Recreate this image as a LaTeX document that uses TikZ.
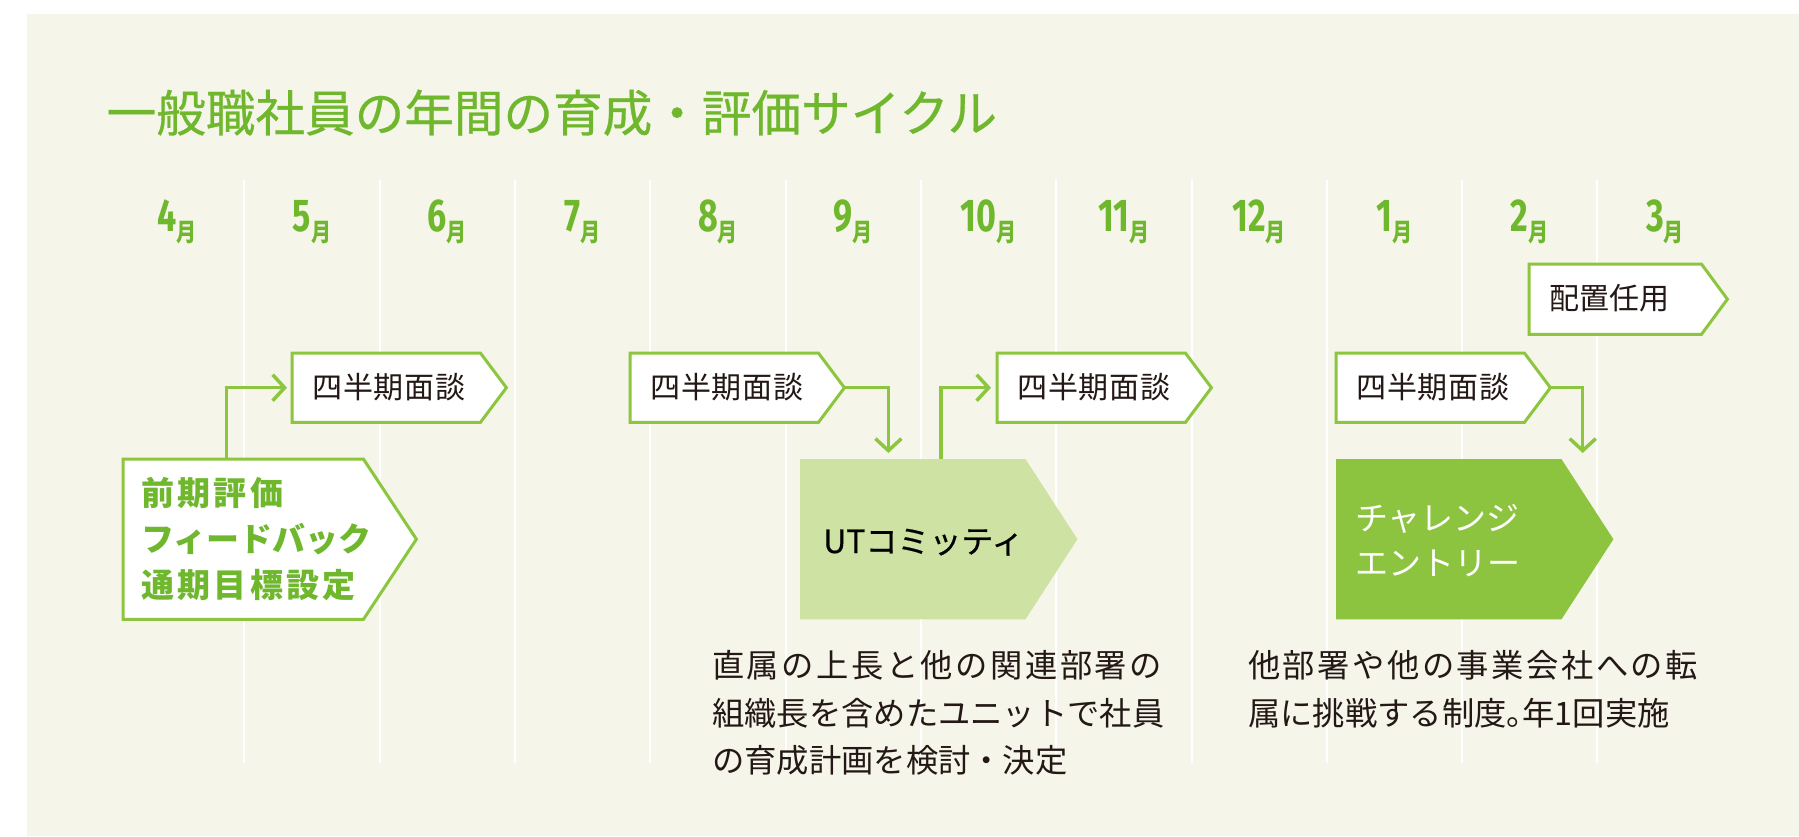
\documentclass[tikz,border=0pt]{standalone}
\usepackage{fontspec}
\usetikzlibrary{arrows.meta,calc}
\setmainfont{Noto Sans CJK JP}
\newfontfamily\jp{Noto Sans CJK JP}
\newfontfamily\jpsp[LetterSpace=3]{Noto Sans CJK JP}
\newfontfamily\jpwide[LetterSpace=7.7]{Noto Sans CJK JP}
\newfontfamily\jpbsp[LetterSpace=10]{Noto Sans CJK JP}
\newfontfamily\jpmed[FakeBold=0.6]{Noto Sans CJK JP}
\newfontfamily\digitf[FakeStretch=0.74]{Fira Sans}
\newfontfamily\monf[FakeStretch=0.8]{Noto Sans CJK JP}
\definecolor{bgc}{HTML}{F5F5EA}
\definecolor{tgreen}{HTML}{6FB72C}
\definecolor{lgreen}{HTML}{8CC63F}
\definecolor{gfill}{HTML}{8DC43F}
\definecolor{pale}{HTML}{CDE2A3}
\definecolor{inkc}{HTML}{231815}
\pgfdeclarelayer{bglayer}
\pgfdeclarelayer{shapes}
\pgfsetlayers{bglayer,shapes,main}
\newcommand\tipbox[3]{%
  \begin{pgfonlayer}{shapes}
  \path[#3] (#1.north west) -- (#1.north east) -- ($(#1.east)+(#2,0)$) -- (#1.south east) -- (#1.south west) -- cycle;
  \end{pgfonlayer}}
\tikzset{
  boxr/.style={shape=rectangle, inner sep=0pt, anchor=north west},
  wbox/.style={draw=lgreen, fill=white, line width=3pt, line join=miter},
  pbox/.style={fill=pale},
  gbox/.style={fill=gfill},
  conn/.style={draw=lgreen, line width=3.5pt, -{Straight Barb[length=12pt,width=26pt]}},
  qtext/.style={anchor=base west, inner sep=0pt, text=inkc, font=\jpsp\fontsize{30pt}{30pt}\selectfont},
  btext/.style={anchor=base west, inner sep=0pt, text=tgreen, font=\jpbsp\bfseries\fontsize{33pt}{33pt}\selectfont},
  btextn/.style={anchor=base west, inner sep=0pt, text=tgreen, font=\jp\bfseries\fontsize{33pt}{33pt}\selectfont},
  wtext/.style={anchor=base west, inner sep=0pt, text=white, font=\jp\fontsize{33pt}{33pt}\selectfont},
  desc/.style={anchor=base west, inner sep=0pt, text=inkc, font=\jp\fontsize{32.3pt}{32.3pt}\selectfont},
  descw/.style={anchor=base west, inner sep=0pt, text=inkc, font=\jpwide\fontsize{32.3pt}{32.3pt}\selectfont},
  mlabel/.style={anchor=base, inner sep=0pt, text=tgreen, font=\digitf\bfseries\fontsize{46pt}{46pt}\selectfont},
  vline/.style={draw=white, line width=2pt}
}
\newcommand\mon{\raisebox{-10pt}{\monf\bfseries\fontsize{25pt}{25pt}\selectfont 月}}
\begin{document}
\begin{tikzpicture}[x=1pt,y=-1pt]
\useasboundingbox (0,0) rectangle (1799,836);
\begin{pgfonlayer}{bglayer}
  \fill[white] (0,0) rectangle (1799,836);
  \fill[bgc] (27,14) rectangle (1799,836);
  \foreach \i in {0,...,10} {
    \draw[vline] ({244.4+135.3*\i},180) -- ({244.4+135.3*\i},763);
  }
\end{pgfonlayer}

% title
\node[anchor=base west, inner sep=0pt, text=tgreen, font=\jpmed\fontsize{49.6pt}{49.6pt}\selectfont] (title) at (106.5,131.5) {一般職社員の年間の育成・評価サイクル};

% months
\node[mlabel] (m4)  at (176.75,231) {4\mon};
\node[mlabel] (m5)  at (312.05,231) {5\mon};
\node[mlabel] (m6)  at (447.35,231) {6\mon};
\node[mlabel] (m7)  at (582.65,231) {7\mon};
\node[mlabel] (m8)  at (717.95,231) {8\mon};
\node[mlabel] (m9)  at (853.25,231) {9\mon};
\node[mlabel] (m10) at (988.55,231) {10\mon};
\node[mlabel] (m11) at (1123.85,231) {11\mon};
\node[mlabel] (m12) at (1259.15,231) {12\mon};
\node[mlabel] (m1)  at (1394.45,231) {1\mon};
\node[mlabel] (m2)  at (1529.75,231) {2\mon};
\node[mlabel] (m3)  at (1665.05,231) {3\mon};

% boxes
\node[boxr, minimum width=188pt, minimum height=69pt] (A) at (292,353) {};
\tipbox{A}{26}{wbox}
\node[qtext] (At) at (312,398) {四半期面談};

\node[boxr, minimum width=240pt, minimum height=160pt] (B) at (123,459) {};
\tipbox{B}{53}{wbox}
\node[btext] (B1) at (141,505.5) {前期評価};
\node[btextn] (B2) at (141,551) {フィードバック};
\node[btext] (B3) at (141,597.5) {通期目標設定};

\node[boxr, minimum width=188pt, minimum height=69pt] (C) at (630,353) {};
\tipbox{C}{26}{wbox}
\node[qtext] (Ct) at (650,398) {四半期面談};

\node[boxr, minimum width=225pt, minimum height=160pt] (D) at (800,459) {};
\tipbox{D}{52}{pbox}
\node[anchor=base west, inner sep=0pt, text=black, font=\jpmed\fontsize{32pt}{32pt}\selectfont] (Dt) at (823,553) {UTコミッティ};

\node[boxr, minimum width=188pt, minimum height=69pt] (E) at (997,353) {};
\tipbox{E}{26}{wbox}
\node[qtext] (Et) at (1017,398) {四半期面談};

\node[boxr, minimum width=188pt, minimum height=69pt] (F) at (1336,353) {};
\tipbox{F}{26}{wbox}
\node[qtext] (Ft) at (1356,398) {四半期面談};

\node[boxr, minimum width=225pt, minimum height=160pt] (G) at (1336,459) {};
\tipbox{G}{52}{gbox}
\node[wtext] (G1) at (1355,530) {チャレンジ};
\node[wtext] (G2) at (1355,575) {エントリー};

\node[boxr, minimum width=172pt, minimum height=70pt] (H) at (1529,264) {};
\tipbox{H}{26}{wbox}
\node[qtext, font=\jp\fontsize{30pt}{30pt}\selectfont] (Ht) at (1549,309.5) {配置任用};

% connectors
\coordinate (ba) at ($(B.north west)+(103.7,0)$);
\draw[conn] (ba) |- ([xshift=-5pt]A.west);
\coordinate (Ctip) at ($(C.east)+(26,0)$);
\coordinate (cd) at ($(D.north west)+(88.4,-6)$);
\draw[conn] (Ctip) -| (cd);
\coordinate (de) at ($(D.north west)+(141,0)$);
\draw[conn] (de) |- ([xshift=-6pt]E.west);
\coordinate (Ftip) at ($(F.east)+(26,0)$);
\coordinate (fg) at ($(G.north west)+(246.7,-6)$);
\draw[conn] (Ftip) -| (fg);

% descriptions
\node[descw] (d1a) at (712,677.7) {直属の上長と他の関連部署の};
\node[desc]  (d1b) at (712,725)   {組織長を含めたユニットで社員};
\node[desc]  (d1c) at (712,772.7) {の育成計画を検討・決定};
\node[descw] (d2a) at (1248,677.7) {他部署や他の事業会社への転};
\node[desc]  (d2b) at (1248,725)   {属に挑戦する制度\makebox[16pt][l]{。}年1回実施};
\end{tikzpicture}
\end{document}
